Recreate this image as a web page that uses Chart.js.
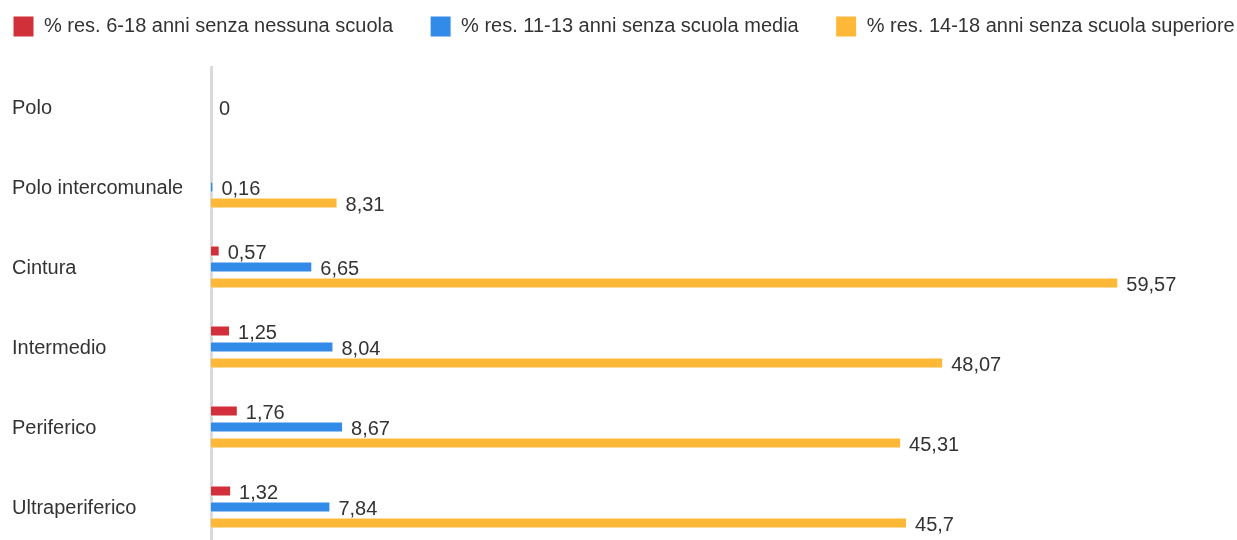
<!DOCTYPE html>
<html>
<head>
<meta charset="utf-8">
<script src="https://cdn.jsdelivr.net/npm/chart.js@4.4.1/dist/chart.umd.min.js"></script>
<style>
  html, body { margin: 0; padding: 0; background: #fff; overflow: hidden; }
  #wrap { width: 1237px; height: 540px; overflow: hidden; }
  #box { position: relative; width: 1237px; height: 560px; }
</style>
</head>
<body>
<div id="wrap"><div id="box"><canvas id="chart"></canvas></div></div>
<script>
const categories = ['Polo', 'Polo intercomunale', 'Cintura', 'Intermedio', 'Periferico', 'Ultraperiferico'];
const seriesNames = [
    '% res. 6-18 anni senza nessuna scuola',
    '% res. 11-13 anni senza scuola media',
    '% res. 14-18 anni senza scuola superiore'
];
const noSchool = [null, null, 0.57, 1.25, 1.76, 1.32];
const noMiddleSchool = [0, 0.16, 6.65, 8.04, 8.67, 7.84];
const noHighSchool = [null, 8.31, 59.57, 48.07, 45.31, 45.7];

const FONT = '"Liberation Sans", Arial, Helvetica, sans-serif';
const LEGEND_GAP = 37;

// draws the value next to the end of each bar
const valueLabels = {
    id: 'valueLabels',
    afterDatasetsDraw(chart) {
        const ctx = chart.ctx;
        ctx.save();
        ctx.font = '20px ' + FONT;
        ctx.fillStyle = '#333';
        ctx.textBaseline = 'middle';
        ctx.textAlign = 'left';
        chart.data.datasets.forEach((ds, i) => {
            const meta = chart.getDatasetMeta(i);
            if (meta.hidden) return;
            meta.data.forEach((bar, j) => {
                const v = ds.data[j];
                if (v === null || v === undefined) return;
                ctx.fillText(String(v).replace('.', ','), bar.x + 8, bar.y + 2);
            });
        });
        ctx.restore();
    }
};

// legend on one wide row, with room below it
const legendSpacing = {
    id: 'legendSpacing',
    beforeInit(chart) {
        const fit = chart.legend.fit;
        chart.legend.fit = function () {
            const mw = this.maxWidth;
            this.maxWidth = 5000;
            fit.call(this);
            this.maxWidth = mw;
            this.width = mw;
            this.height = 67;
        };
    },
    afterLayout(chart) {
        chart.legend.left = 13 - LEGEND_GAP;
        chart.legend.right = 5000;
        chart.legend.top = 16 - LEGEND_GAP;
    }
};

const data = {
    labels: categories,
    datasets: [{
        label: seriesNames[0],
        data: noSchool,
        backgroundColor: '#d1303a',
        borderColor: '#ffffff',
        borderWidth: 1
    }, {
        label: seriesNames[1],
        data: noMiddleSchool,
        backgroundColor: '#338be9',
        borderColor: '#ffffff',
        borderWidth: 1
    }, {
        label: seriesNames[2],
        data: noHighSchool,
        backgroundColor: '#feb838',
        borderColor: '#ffffff',
        borderWidth: 1
    }]
};

const options = {
    indexAxis: 'y',
    responsive: true,
    maintainAspectRatio: false,
    animation: false,
    categoryPercentage: 0.6,
    barPercentage: 0.7,
    layout: {
        padding: { left: 12, right: 36, top: 0, bottom: 13 }
    },
    plugins: {
        tooltip: { enabled: false },
        legend: {
            position: 'top',
            align: 'start',
            labels: {
                boxWidth: 21,
                boxHeight: 21,
                padding: LEGEND_GAP,
                color: '#333',
                font: { size: 20, family: FONT }
            }
        }
    },
    scales: {
        x: {
            display: false,
            min: 0,
            max: 65
        },
        y: {
            grid: { display: false, drawTicks: false },
            border: { color: '#d9d9d9', width: 3 },
            ticks: {
                crossAlign: 'far',
                padding: 0,
                labelOffset: 1,
                color: '#333',
                font: { size: 20, family: FONT }
            },
            afterFit(scale) {
                scale.width = 199;
            }
        }
    }
};

const chart = new Chart(document.getElementById('chart'), {
    type: 'bar',
    data: data,
    options: options,
    plugins: [valueLabels, legendSpacing]
});
</script>
</body>
</html>
